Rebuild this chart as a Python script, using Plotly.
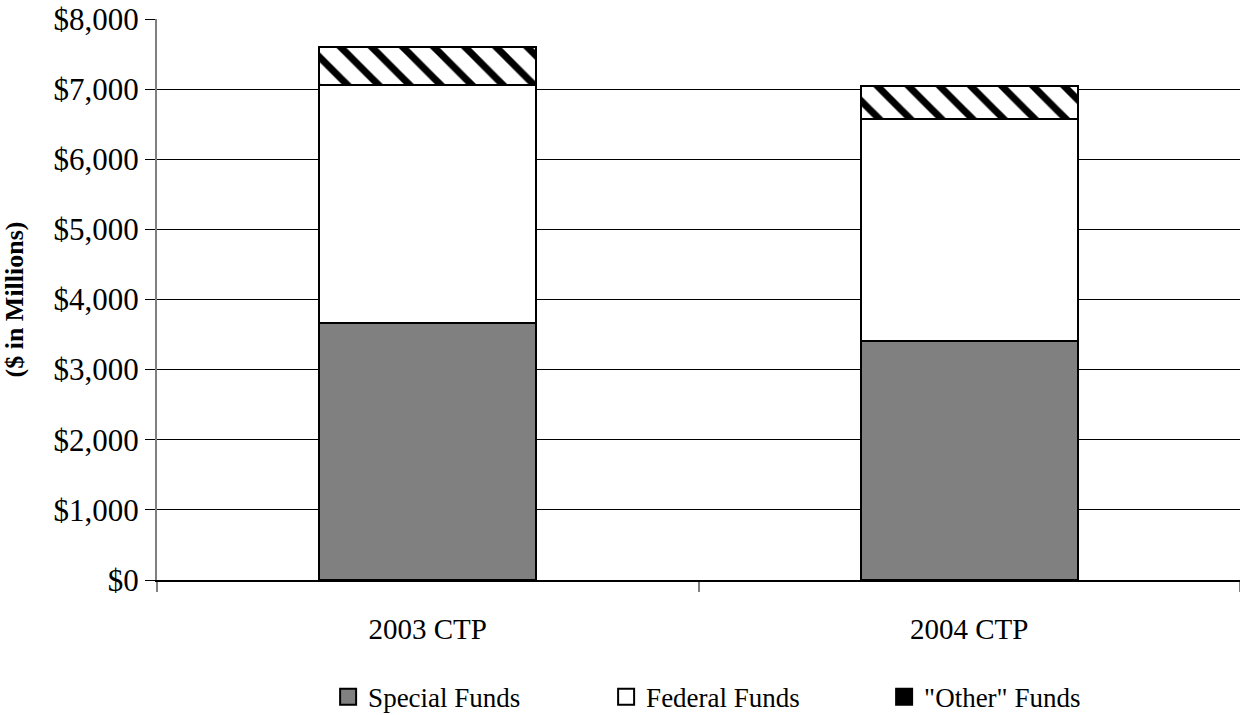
import plotly.graph_objects as go

# Capital Transportation Program funding by source ($ in millions)
programs = ["2003 CTP", "2004 CTP"]
special_funds = [3670, 3410]
federal_funds = [3390, 3165]
other_funds = [540, 475]

y_ticks = [0, 1000, 2000, 3000, 4000, 5000, 6000, 7000, 8000]
y_tick_labels = ["$0", "$1,000", "$2,000", "$3,000", "$4,000",
                 "$5,000", "$6,000", "$7,000", "$8,000"]

FONT = "Liberation Serif"
outline = dict(color="black", width=2)
stripes = dict(shape="\\", fgcolor="black", bgcolor="white",
               size=22, solidity=0.32, fillmode="replace")

fig = go.Figure()
fig.add_trace(go.Bar(
    x=programs, y=special_funds, name="Special Funds", showlegend=False,
    marker=dict(color="#808080", line=outline),
))
fig.add_trace(go.Bar(
    x=programs, y=federal_funds, name="Federal Funds", showlegend=False,
    marker=dict(color="white", line=outline),
))
fig.add_trace(go.Bar(
    x=programs, y=other_funds, name="\"Other\" Funds", showlegend=False,
    marker=dict(color="white", line=outline, pattern=stripes),
))

# legend keys: larger square swatches than the default bar symbols
legend_keys = [
    ("Special Funds", "#808080"),
    ("Federal Funds", "white"),
    ("\"Other\" Funds", "black"),
]
for label, fill in legend_keys:
    fig.add_trace(go.Scatter(
        x=[None], y=[None], mode="markers", name=label,
        marker=dict(symbol="square", size=17, color=fill,
                    line=dict(color="black", width=2)),
    ))

fig.update_layout(
    barmode="stack",
    bargap=0.6,
    width=1240, height=715,
    margin=dict(l=157, r=0, t=19, b=135, autoexpand=False),
    paper_bgcolor="white", plot_bgcolor="white",
    font=dict(family=FONT, size=28, color="black"),
    showlegend=True,
    legend=dict(
        orientation="h", x=0.158, xanchor="left", y=-0.209, yanchor="middle",
        font=dict(family=FONT, size=27, color="black"),
        entrywidth=233, entrywidthmode="pixels",
        itemwidth=30, traceorder="normal",
    ),
    hovermode=False,
)

fig.update_xaxes(
    type="category", automargin=False,
    showline=True, linecolor="black", linewidth=2,
    ticks="outside", tickson="boundaries", ticklen=10, tickcolor="#808080",
    tickwidth=2, ticklabelstandoff=22,
    showgrid=False,
    tickfont=dict(family=FONT, size=29),
)

fig.update_yaxes(
    range=[0, 8000], automargin=False,
    tickvals=y_ticks, ticktext=y_tick_labels,
    showline=True, linecolor="#808080", linewidth=2,
    ticks="outside", ticklen=10, tickcolor="black", tickwidth=1,
    showgrid=True, gridcolor="black", gridwidth=1,
    zeroline=False,
    tickfont=dict(family=FONT, size=31),
    title=dict(text="<b>($ in Millions)</b>",
               font=dict(family=FONT, size=26), standoff=22),
)

fig.write_html("out.html")
